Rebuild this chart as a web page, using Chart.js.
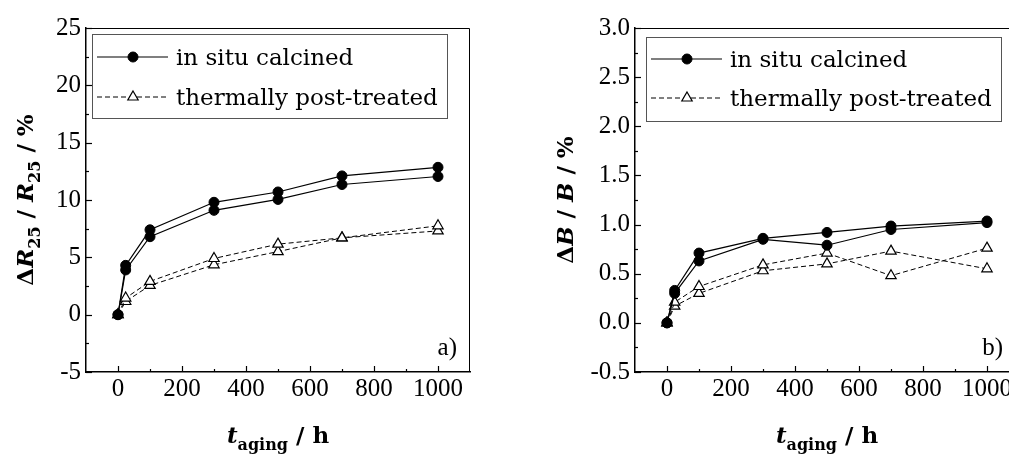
<!DOCTYPE html>
<html>
<head>
<meta charset="utf-8">
<script src="https://cdn.jsdelivr.net/npm/chart.js@4/dist/chart.umd.min.js"></script>
<style>
html, body { margin: 0; padding: 0; background: #fff; width: 1009px; height: 456px; overflow: hidden; }
.panel { position: absolute; top: 0; height: 456px; }
#wrapA { left: 0; width: 480px; }
#wrapB { left: 500px; width: 540px; }
</style>
</head>
<body>
<div class="panel" id="wrapA"><canvas id="chartA"></canvas></div>
<div class="panel" id="wrapB"><canvas id="chartB"></canvas></div>
<script>
// aging time (h)
const hours = [0, 24, 100, 300, 500, 700, 1000];

// a) change of R25 in %
const r25Calcined1 = [0, 4.3, 7.4, 9.8, 10.7, 12.1, 12.85];
const r25Calcined2 = [0, 3.9, 6.8, 9.1, 10.05, 11.35, 12.05];
const r25Treated1 = [0, 1.45, 2.9, 4.9, 6.15, 6.7, 7.75];
const r25Treated2 = [0, 1.15, 2.55, 4.35, 5.5, 6.7, 7.3];

// b) change of B in %
const bCalcined1 = [0, 0.33, 0.71, 0.86, 0.92, 0.985, 1.036];
const bCalcined2 = [0, 0.30, 0.63, 0.85, 0.79, 0.95, 1.02];
const bTreated1 = [0, 0.21, 0.37, 0.59, 0.71, 0.48, 0.76];
const bTreated2 = [0, 0.17, 0.30, 0.53, 0.60, 0.73, 0.55];

const labelCalcined = 'in situ calcined';
const labelTreated = 'thermally post-treated';

// ticks
const xTicks = [0, 200, 400, 600, 800, 1000];
const xMinor = [100, 300, 500, 700, 900];
const yTicksA = [-5, 0, 5, 10, 15, 20, 25];
const yMinorA = [-2.5, 2.5, 7.5, 12.5, 17.5, 22.5];
const yTicksB = [-0.5, 0, 0.5, 1.0, 1.5, 2.0, 2.5, 3.0];
const yMinorB = [-0.25, 0.25, 0.75, 1.25, 1.75, 2.25, 2.75];

const serif = 'DejaVu Serif';
const tickFont = 'Liberation Serif';

function pts(ys) {
    return hours.map((h, i) => ({ x: h, y: ys[i] }));
}

function calcined(ys) {
    return {
        label: labelCalcined, data: pts(ys),
        borderColor: '#000', borderWidth: 1.2,
        pointStyle: 'circle', pointRadius: 5,
        pointBackgroundColor: '#000', pointBorderColor: '#000', pointBorderWidth: 1
    };
}

function treated(ys) {
    return {
        label: labelTreated, data: pts(ys),
        borderColor: '#000', borderWidth: 1, borderDash: [5, 3],
        pointStyle: 'triangle', pointRadius: 6,
        pointBackgroundColor: '#fff', pointBorderColor: '#000', pointBorderWidth: 1.2
    };
}

function drawRich(ctx, parts, x, y, rotate) {
    ctx.save();
    ctx.translate(x, y);
    if (rotate) ctx.rotate(-Math.PI / 2);
    ctx.textAlign = 'left';
    ctx.textBaseline = 'alphabetic';
    ctx.fillStyle = '#000';
    let total = 0;
    parts.forEach(p => { ctx.font = p.f; p.w = ctx.measureText(p.t).width; total += p.w; });
    let cx = -total / 2;
    parts.forEach(p => {
        ctx.font = p.f;
        ctx.fillText(p.t, cx, p.sub ? 7 : 0);
        cx += p.w;
    });
    ctx.restore();
}

// frame, inward ticks, boxed legend, axis titles
const decor = {
    id: 'decor',
    afterDraw(chart, args, o) {
        const { ctx, chartArea: a, scales } = chart;
        ctx.save();
        ctx.strokeStyle = '#000';
        ctx.lineWidth = 1;
        ctx.beginPath();
        ctx.moveTo(a.left, a.top + 0.5);
        ctx.lineTo(a.right - 0.5, a.top + 0.5);
        ctx.lineTo(a.right - 0.5, a.bottom);
        ctx.stroke();

        ctx.lineWidth = 1.2;
        const xt = (vals, len) => vals.forEach(v => {
            const px = Math.round(scales.x.getPixelForValue(v)) + 0.5;
            ctx.beginPath(); ctx.moveTo(px, a.bottom); ctx.lineTo(px, a.bottom - len); ctx.stroke();
        });
        const yt = (vals, len) => vals.forEach(v => {
            const py = Math.round(scales.y.getPixelForValue(v)) + 0.5;
            ctx.beginPath(); ctx.moveTo(a.left, py); ctx.lineTo(a.left + len, py); ctx.stroke();
        });
        xt(xTicks, 6); xt(xMinor, 3);
        yt(o.yMajor, 6); yt(o.yMinor, 3);

        // legend box
        const lx = a.left + o.legend.dx, ly = a.top + o.legend.dy;
        ctx.strokeStyle = '#555';
        ctx.lineWidth = 1;
        ctx.strokeRect(lx + 0.5, ly + 0.5, o.legend.w, o.legend.h);
        const seen = [];
        chart.data.datasets.forEach(ds => {
            if (seen.includes(ds.label)) return;
            seen.push(ds.label);
            const ry = ly + o.legend.row0 + (seen.length - 1) * o.legend.rowGap;
            ctx.strokeStyle = '#000';
            ctx.lineWidth = ds.borderWidth;
            ctx.setLineDash(ds.borderDash || []);
            ctx.beginPath(); ctx.moveTo(lx + 5, ry); ctx.lineTo(lx + 76, ry); ctx.stroke();
            ctx.setLineDash([]);
            ctx.fillStyle = ds.pointBackgroundColor;
            ctx.strokeStyle = ds.pointBorderColor;
            ctx.lineWidth = ds.pointBorderWidth;
            Chart.helpers.drawPoint(ctx, { pointStyle: ds.pointStyle, radius: ds.pointRadius, rotation: 0, borderWidth: ds.pointBorderWidth }, lx + 41, ry);
            ctx.fillStyle = '#000';
            ctx.font = '23px "' + serif + '"';
            ctx.textAlign = 'left';
            ctx.textBaseline = 'middle';
            ctx.fillText(ds.label, lx + 84, ry + 2);
        });

        // panel label
        ctx.font = '25px "' + tickFont + '"';
        ctx.textAlign = 'right';
        ctx.textBaseline = 'alphabetic';
        ctx.fillStyle = '#000';
        ctx.fillText(o.panel, a.right - o.panelDx, a.bottom - 17);

        // axis titles
        drawRich(ctx, o.yTitle, o.yTitleX, (a.top + a.bottom) / 2, true);
        drawRich(ctx, o.xTitle, (a.left + a.right) / 2, 443, false);
        ctx.restore();
    }
};

const bold = '"' + serif + '"';
const xTitle = [
    { t: 't', f: 'italic bold 23px ' + bold },
    { t: 'aging', f: 'bold 16px ' + bold, sub: true },
    { t: ' / h', f: 'bold 23px ' + bold }
];

function makeChart(id, datasets, yMin, yMax, yMajor, yMinor, yFmt, yWidth, padRight, extra) {
    return new Chart(document.getElementById(id), {
        type: 'line',
        data: { datasets: datasets },
        options: {
            responsive: true,
            maintainAspectRatio: false,
            animation: false,
            layout: { padding: { top: 28, right: padRight, left: 0, bottom: 0 } },
            plugins: {
                legend: { display: false },
                tooltip: { enabled: false },
                decor: Object.assign({ yMajor: yMajor, yMinor: yMinor, xTitle: xTitle }, extra)
            },
            scales: {
                x: {
                    type: 'linear', min: -100, max: 1100,
                    afterBuildTicks: s => { s.ticks = xTicks.map(v => ({ value: v })); },
                    afterFit: s => { s.height = 84; },
                    grid: { display: false, drawTicks: false },
                    border: { display: true, color: '#000', width: 1.5 },
                    ticks: { color: '#000', font: { family: tickFont, size: 25 }, padding: 2, maxRotation: 0, autoSkip: false, callback: v => String(v) }
                },
                y: {
                    type: 'linear', min: yMin, max: yMax,
                    afterBuildTicks: s => { s.ticks = yMajor.map(v => ({ value: v })); },
                    afterFit: s => { s.width = yWidth; },
                    grid: { display: false, drawTicks: false },
                    border: { display: true, color: '#000', width: 1.5 },
                    ticks: { color: '#000', font: { family: tickFont, size: 25 }, padding: 5, autoSkip: false, callback: yFmt }
                }
            }
        },
        plugins: [decor]
    });
}

makeChart('chartA',
    [calcined(r25Calcined1), calcined(r25Calcined2), treated(r25Treated1), treated(r25Treated2)],
    -5, 25, yTicksA, yMinorA, v => String(v), 86, 10,
    {
        panel: 'a)', panelDx: 13, yTitleX: 33,
        legend: { dx: 6, dy: 6, w: 355, h: 84, row0: 23, rowGap: 40 },
        yTitle: [
            { t: '\u0394', f: 'bold 23px ' + bold },
            { t: 'R', f: 'italic bold 23px ' + bold },
            { t: '25', f: 'bold 16px ' + bold, sub: true },
            { t: ' / ', f: 'bold 23px ' + bold },
            { t: 'R', f: 'italic bold 23px ' + bold },
            { t: '25', f: 'bold 16px ' + bold, sub: true },
            { t: ' / %', f: 'bold 23px ' + bold }
        ]
    });

makeChart('chartB',
    [calcined(bCalcined1), calcined(bCalcined2), treated(bTreated1), treated(bTreated2)],
    -0.5, 3.0, yTicksB, yMinorB, v => v.toFixed(1), 135, 21,
    {
        panel: 'b)', panelDx: 16, yTitleX: 73,
        legend: { dx: 11, dy: 9, w: 355, h: 84, row0: 22, rowGap: 39 },
        yTitle: [
            { t: '\u0394', f: 'bold 23px ' + bold },
            { t: 'B', f: 'italic bold 23px ' + bold },
            { t: ' / ', f: 'bold 23px ' + bold },
            { t: 'B', f: 'italic bold 23px ' + bold },
            { t: ' / %', f: 'bold 23px ' + bold }
        ]
    });
</script>
</body>
</html>
